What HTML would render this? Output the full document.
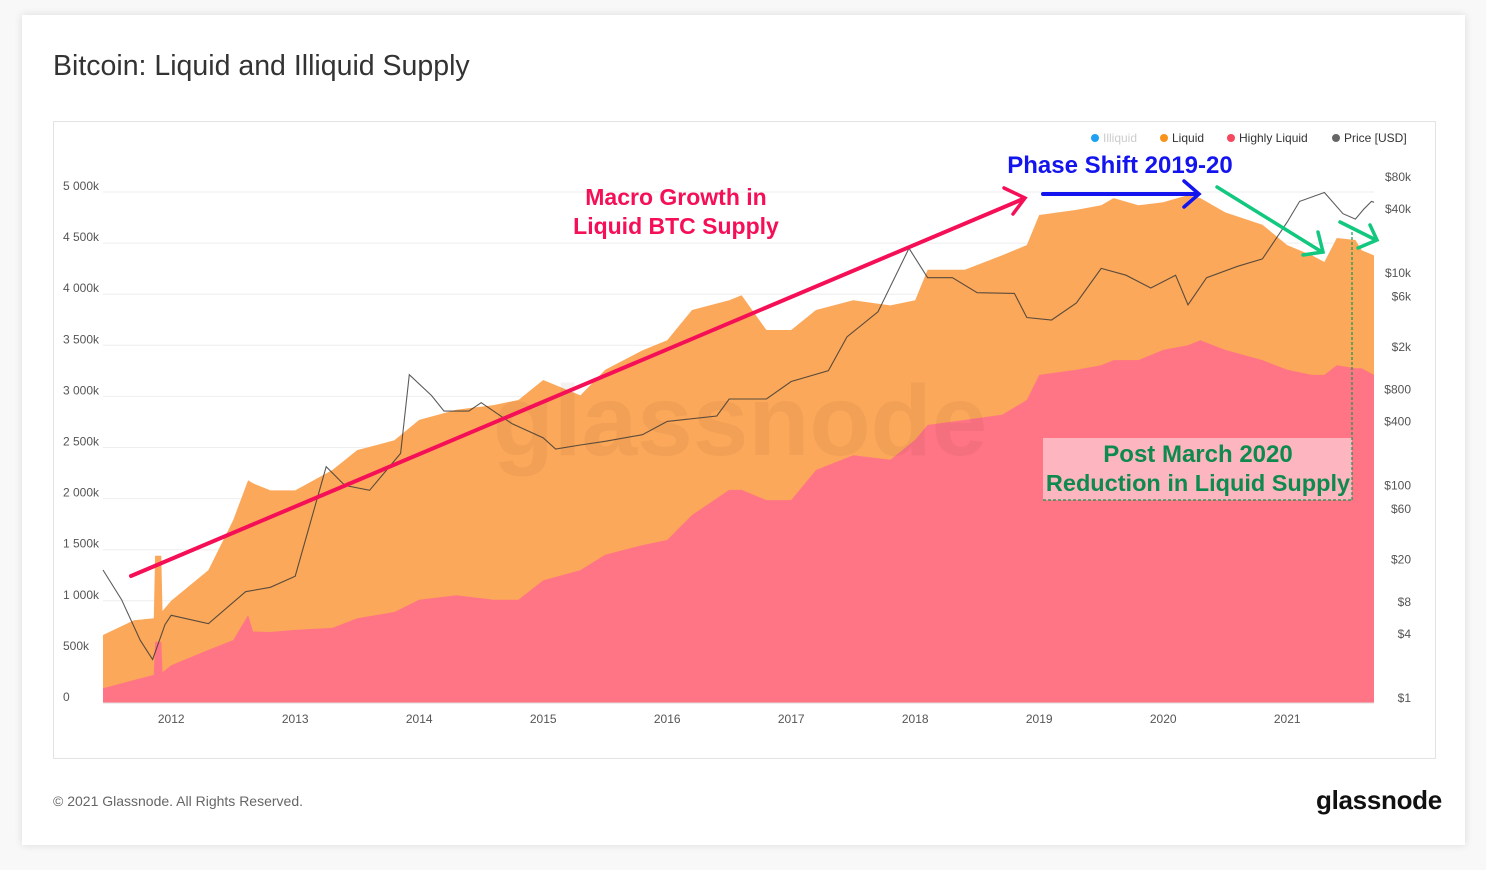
<!DOCTYPE html>
<html><head><meta charset="utf-8">
<style>
body{margin:0;width:1486px;height:870px;background:#f8f8f8;font-family:"Liberation Sans",sans-serif;overflow:hidden;}
#card{position:absolute;left:22px;top:15px;width:1443px;height:830px;background:#fff;box-shadow:0 0 8px rgba(0,0,0,0.12);}
#title{position:absolute;left:53px;top:50px;font-size:28.5px;color:#333;}
#frame{position:absolute;left:53px;top:121px;width:1381px;height:636px;border:1px solid #e3e3e3;}
#copy{position:absolute;left:53px;top:793px;font-size:14px;color:#666;}
#logo{position:absolute;left:1316px;top:785px;font-size:26px;color:#111;letter-spacing:-0.3px;font-weight:bold;}
svg{position:absolute;left:0;top:0;}
</style></head><body>
<div id="card"></div>
<div id="title">Bitcoin: Liquid and Illiquid Supply</div>
<div id="frame"></div>
<div id="copy">© 2021 Glassnode. All Rights Reserved.</div>
<div id="logo">glassnode</div>
<svg id="chart" width="1486" height="870"></svg>
<script>
const dates=[2011.45,2011.7,2011.86,2011.87,2011.92,2011.93,2012.0,2012.3,2012.5,2012.62,2012.66,2012.8,2013.0,2013.3,2013.5,2013.8,2014.0,2014.3,2014.6,2014.8,2015.0,2015.3,2015.5,2015.8,2016.0,2016.2,2016.5,2016.6,2016.8,2017.0,2017.2,2017.5,2017.8,2018.0,2018.1,2018.4,2018.7,2018.9,2019.0,2019.3,2019.5,2019.6,2019.8,2020.0,2020.2,2020.3,2020.5,2020.8,2021.0,2021.2,2021.3,2021.4,2021.55,2021.6,2021.7];
const liquidTotal=[665,810,830,1440,1440,900,1000,1300,1790,2180,2150,2080,2080,2280,2475,2570,2770,2870,2915,2965,3160,3010,3260,3450,3550,3845,3940,3990,3650,3650,3845,3940,3890,3940,4240,4240,4380,4480,4775,4825,4870,4940,4870,4900,4970,4940,4800,4680,4480,4380,4315,4550,4530,4430,4380];
const highlyLiquid=[145,225,275,600,600,300,370,520,615,860,700,695,715,735,830,890,1010,1055,1010,1010,1200,1300,1450,1545,1595,1840,2085,2085,1985,1985,2280,2425,2380,2575,2720,2770,2820,2965,3210,3260,3305,3355,3355,3455,3500,3550,3455,3355,3260,3210,3210,3305,3275,3275,3210];
const priceDates=[2011.45,2011.6,2011.75,2011.85,2011.95,2012.0,2012.3,2012.6,2012.8,2013.0,2013.25,2013.4,2013.6,2013.85,2013.92,2014.1,2014.2,2014.4,2014.5,2014.75,2015.0,2015.1,2015.3,2015.5,2015.8,2016.0,2016.4,2016.5,2016.8,2017.0,2017.3,2017.45,2017.7,2017.95,2018.1,2018.3,2018.5,2018.8,2018.9,2019.1,2019.3,2019.5,2019.7,2019.9,2020.1,2020.2,2020.35,2020.6,2020.8,2021.0,2021.1,2021.3,2021.45,2021.55,2021.62,2021.68,2021.7];
const prices=[16,8.4,3.5,2.3,4.9,6,5,10,11,14,150,100,90,200,1100,700,500,500,600,380,280,220,240,260,300,400,450,650,650,950,1200,2500,4300,17000,9000,9000,6500,6400,3800,3600,5200,11000,9500,7200,9500,5000,9000,11500,13500,30000,47000,57000,36000,32000,40000,47000,46000];
const supplyTicks=[0,500,1000,1500,2000,2500,3000,3500,4000,4500,5000];
const supplyLabels=["0","500k","1 000k","1 500k","2 000k","2 500k","3 000k","3 500k","4 000k","4 500k","5 000k"];
const priceTicks=[1,4,8,20,60,100,400,800,2000,6000,10000,40000,80000];
const priceLabels=["$1","$4","$8","$20","$60","$100","$400","$800","$2k","$6k","$10k","$40k","$80k"];
const years=[2012,2013,2014,2015,2016,2017,2018,2019,2020,2021];

const X0=103,X1=1374,D0=2011.45,D1=2021.7;
const xs=d=>X0+(d-D0)/(D1-D0)*(X1-X0);
const ys=v=>703-v*0.1022;
const yp=p=>698-Math.log10(p)*106.3;
const NS="http://www.w3.org/2000/svg";
const svg=document.getElementById('chart');
function mk(tag,attrs,parent){const e=document.createElementNS(NS,tag);for(const k in attrs)e.setAttribute(k,attrs[k]);(parent||svg).appendChild(e);return e;}

supplyTicks.forEach((t,i)=>{
  const g=mk('line',{x1:103,x2:1374,y1:ys(t),y2:ys(t),stroke:'#eeeeee'});
  
  
  const tx=mk('text',{x:63,y:ys(t)-2,'font-size':12,fill:'#555'});
  tx.textContent=supplyLabels[i];
  
  
});
function area(vals,fill,name){
  let d='M'+xs(dates[0])+','+ys(0);
  dates.forEach((dt,i)=>{d+='L'+xs(dt).toFixed(1)+','+ys(vals[i]).toFixed(1);});
  d+='L'+xs(dates[dates.length-1])+','+ys(0)+'Z';
  const p=mk('path',{d:d,fill:fill});
  
  
}
area(liquidTotal,'#fba85a','liquid-area');
area(highlyLiquid,'#ff7585','highly-liquid-area');
const wm=mk('text',{x:740,y:455,'font-size':100,fill:'rgba(120,60,40,0.07)','text-anchor':'middle','font-weight':'bold'});
wm.textContent='glassnode';


let pd='';
priceDates.forEach((dt,i)=>{pd+=(i?'L':'M')+xs(dt).toFixed(1)+','+yp(prices[i]).toFixed(1);});
const pl=mk('path',{d:pd,fill:'none',stroke:'#333','stroke-width':1.1,'stroke-opacity':0.8});


mk('line',{x1:103,x2:1374,y1:703,y2:703,stroke:'#ddd'});
years.forEach(y=>{
  const t=mk('text',{x:xs(y),y:723,'font-size':12,fill:'#555','text-anchor':'middle'});
  t.textContent=y;
  
  
});
priceTicks.forEach((p,i)=>{
  const t=mk('text',{x:1411,y:yp(p)+4,'font-size':12,fill:'#555','text-anchor':'end'});
  t.textContent=priceLabels[i];
  
  
});
[['Illiquid','#1ea1f2','#ccc',1095],['Liquid','#f7931a','#333',1164],['Highly Liquid','#f5475d','#333',1231],['Price [USD]','#666','#333',1336]].forEach(l=>{
  const c=mk('circle',{cx:l[3],cy:138,r:4,fill:l[1]});
  
  
  const t=mk('text',{x:l[3]+8,y:142,'font-size':12,fill:l[2]});
  t.textContent=l[0];
  
  
});
</script>
<svg width="1486" height="870" style="position:absolute;left:0;top:0">
<g stroke-linecap="round" fill="none">
<line x1="131" y1="576" x2="1023" y2="199" stroke="#f50f57" stroke-width="4"/>
<polyline points="1004,188 1025,198 1013,214" stroke="#f50f57" stroke-width="3.5"/>
<line x1="1043" y1="194" x2="1198" y2="194" stroke="#1414ee" stroke-width="4"/>
<polyline points="1184,181 1199,194 1184,207" stroke="#1414ee" stroke-width="3.5"/>
<line x1="1217" y1="187" x2="1322" y2="252" stroke="#12c77e" stroke-width="3.5"/>
<polyline points="1318,232 1323,252 1303,255" stroke="#12c77e" stroke-width="3.5"/>
<line x1="1340" y1="222" x2="1376" y2="240" stroke="#12c77e" stroke-width="3.5"/>
<polyline points="1358,248 1377,240 1370,225" stroke="#12c77e" stroke-width="3.5"/>
</g>
<rect x="1043" y="438" width="309" height="62" fill="#fdb6c0"/>
<line x1="1352" y1="232" x2="1352" y2="500" stroke="#129a50" stroke-dasharray="3,2" stroke-width="1.2"/>
<line x1="1043" y1="500" x2="1352" y2="500" stroke="#129a50" stroke-dasharray="3,2" stroke-width="1.2"/>
<text x="676" y="205" font-size="23" font-weight="bold" fill="#f50f57" text-anchor="middle">Macro Growth in</text>
<text x="676" y="234" font-size="23" font-weight="bold" fill="#f50f57" text-anchor="middle">Liquid BTC Supply</text>
<text x="1120" y="173" font-size="24" font-weight="bold" fill="#1414ee" text-anchor="middle">Phase Shift 2019-20</text>
<text x="1198" y="462" font-size="24" font-weight="bold" fill="#0f8a4e" text-anchor="middle">Post March 2020</text>
<text x="1198" y="491" font-size="23.5" font-weight="bold" fill="#0f8a4e" text-anchor="middle">Reduction in Liquid Supply</text>
</svg>
</body></html>
